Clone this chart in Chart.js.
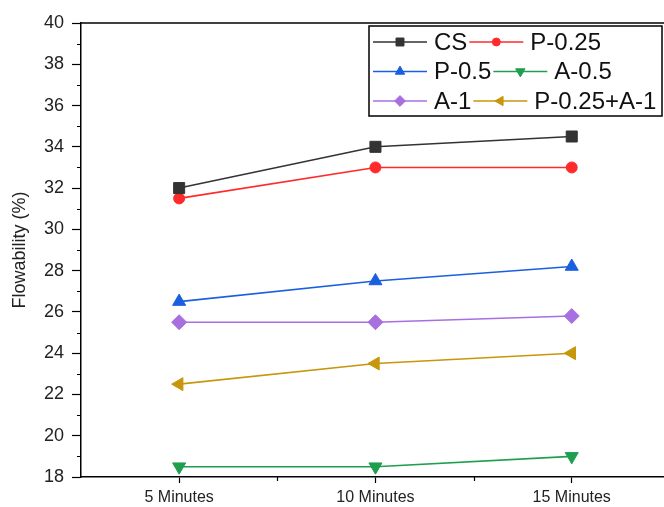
<!DOCTYPE html>
<html>
<head>
<meta charset="utf-8">
<script src="https://cdn.jsdelivr.net/npm/chart.js@4/dist/chart.umd.min.js"></script>
<style>
  html, body { margin: 0; padding: 0; background: #fff; overflow: hidden; }
  canvas { display: block; }
</style>
</head>
<body>
<canvas id="myChart" width="664" height="507"></canvas>
<script>
// Chart data
const categories = ["5 Minutes", "10 Minutes", "15 Minutes"];
const minutes = [5, 10, 15];
const yTicks = [18, 20, 22, 24, 26, 28, 30, 32, 34, 36, 38, 40];

const seriesNames = ["CS", "P-0.25", "P-0.5", "A-0.5", "A-1", "P-0.25+A-1"];
const csValues = [32, 34, 34.5];
const p025Values = [31.5, 33, 33];
const p05Values = [26.5, 27.5, 28.2];
const a05Values = [18.5, 18.5, 19];
const a1Values = [25.5, 25.5, 25.8];
const p025a1Values = [22.5, 23.5, 24];

const FONT = "'Liberation Sans', Arial, sans-serif";

// Builds one line dataset
function makeSeries(label, values, color, style, radius, rotation) {
    return {
        label: label,
        data: values.map((v, i) => ({ x: minutes[i], y: v })),
        borderColor: color,
        backgroundColor: color,
        borderWidth: 1.6,
        pointStyle: style,
        pointRadius: radius,
        pointHoverRadius: radius,
        pointRotation: rotation || 0,
        pointBorderWidth: 1,
        pointBorderColor: color,
        pointBackgroundColor: color,
        tension: 0,
        fill: false
    };
}

const datasets = [
    makeSeries(seriesNames[0], csValues, "#333333", "rect", 7.8),
    makeSeries(seriesNames[1], p025Values, "#ff2a2a", "circle", 5.5),
    makeSeries(seriesNames[2], p05Values, "#1a5fe0", "triangle", 7.5),
    makeSeries(seriesNames[3], a05Values, "#1f9e4e", "triangle", 7.5, 180),
    makeSeries(seriesNames[4], a1Values, "#a86fe0", "rectRot", 7.5),
    makeSeries(seriesNames[5], p025a1Values, "#c8960c", "triangle", 7.5, 270)
];

// Top frame line, minor ticks and the boxed legend
const framePlugin = {
    id: "framePlugin",
    afterDraw(chart) {
        const ctx = chart.ctx;
        const a = chart.chartArea;
        const xs = chart.scales.x;
        const ys = chart.scales.y;

        ctx.save();
        ctx.strokeStyle = "#000";
        ctx.lineWidth = 1.5;
        ctx.beginPath();
        ctx.moveTo(a.left, a.top);
        ctx.lineTo(a.right, a.top);
        ctx.stroke();

        // minor ticks
        ctx.lineWidth = 1.2;
        ctx.beginPath();
        for (let v = 19; v < 40; v += 2) {
            const y = Math.round(ys.getPixelForValue(v)) + 0.5;
            ctx.moveTo(a.left - 4, y);
            ctx.lineTo(a.left, y);
        }
        [7.5, 12.5].forEach(v => {
            const x = Math.round(xs.getPixelForValue(v)) + 0.5;
            ctx.moveTo(x, a.bottom);
            ctx.lineTo(x, a.bottom + 4);
        });
        ctx.stroke();

        // legend box
        const boxW = 293, boxH = 90;
        const bx = a.right - 2 - boxW;
        const by = a.top + 3;
        ctx.lineWidth = 1.5;
        ctx.strokeRect(bx, by, boxW, boxH);

        ctx.font = "24px " + FONT;
        ctx.textBaseline = "middle";
        ctx.textAlign = "left";
        const rowY = [by + 16, by + 45.5, by + 75];
        for (let r = 0; r < 3; r++) {
            let x = bx + 4;
            for (let c = 0; c < 2; c++) {
                const ds = datasets[r * 2 + c];
                const y = rowY[r];
                ctx.strokeStyle = ds.borderColor;
                ctx.fillStyle = ds.borderColor;
                ctx.lineWidth = 1.6;
                ctx.beginPath();
                ctx.moveTo(x, y);
                ctx.lineTo(x + 54, y);
                ctx.stroke();
                ctx.lineWidth = 1;
                Chart.helpers.drawPoint(ctx, {
                    pointStyle: ds.pointStyle,
                    radius: ds.pointRadius * 0.72,
                    rotation: ds.pointRotation,
                    borderWidth: 1
                }, x + 27, y);
                ctx.fillStyle = "#111";
                ctx.fillText(ds.label, x + 61, y + 1);
                x += 61 + ctx.measureText(ds.label).width + 2;
            }
        }
        ctx.restore();
    }
};

const config = {
    type: "line",
    data: { datasets: datasets },
    options: {
        responsive: false,
        animation: false,
        events: [],
        layout: {
            autoPadding: false,
            padding: { top: 23, right: 0, left: 0, bottom: 0 }
        },
        plugins: {
            legend: { display: false },
            tooltip: { enabled: false }
        },
        scales: {
            x: {
                type: "linear",
                min: 2.5,
                max: 17.35,
                afterBuildTicks: scale => {
                    scale.ticks = minutes.map(v => ({ value: v }));
                },
                afterFit: scale => {
                    scale.height = 30;
                    scale.paddingLeft = 0;
                    scale.paddingRight = 0;
                },
                border: { display: true, color: "#000", width: 1.5 },
                grid: {
                    drawOnChartArea: false,
                    drawTicks: true,
                    tickLength: 6,
                    tickColor: "#000",
                    tickWidth: 1.2
                },
                ticks: {
                    padding: 5,
                    color: "#222",
                    font: { family: FONT, size: 16 },
                    maxRotation: 0,
                    callback: value => categories[minutes.indexOf(value)] || ""
                }
            },
            y: {
                min: 18,
                max: 40,
                afterBuildTicks: scale => {
                    scale.ticks = yTicks.map(v => ({ value: v }));
                },
                afterFit: scale => { scale.width = 81; },
                border: { display: true, color: "#000", width: 1.5 },
                grid: {
                    drawOnChartArea: false,
                    drawTicks: true,
                    tickLength: 9,
                    tickColor: "#000",
                    tickWidth: 1.2
                },
                ticks: {
                    padding: 8,
                    color: "#222",
                    font: { family: FONT, size: 18 }
                },
                title: {
                    display: true,
                    text: "Flowability (%)",
                    color: "#222",
                    font: { family: FONT, size: 18 },
                    padding: { top: 9, bottom: 0 }
                }
            }
        }
    },
    plugins: [framePlugin]
};

var myChart = new Chart(document.getElementById("myChart"), config);
</script>
</body>
</html>
